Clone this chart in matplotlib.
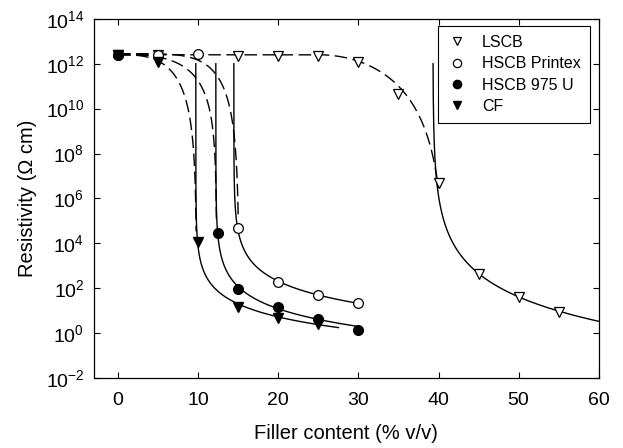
import numpy as np
import matplotlib as mpl
mpl.use('Agg')
import matplotlib.pyplot as plt
from matplotlib.ticker import LogLocator, LogFormatterSciNotation, NullLocator

plt.rcParams['font.family'] = ['Liberation Sans', 'DejaVu Sans']
plt.rcParams['mathtext.default'] = 'regular'

# measured resistivity (Ohm cm) vs filler content (% v/v)
lscb_x = [0, 5, 15, 20, 25, 30, 35, 40, 45, 50, 55]
lscb_y = [2.5e12, 2.5e12, 2.2e12, 2.2e12, 2.2e12, 1.2e12, 4.5e10, 5e6, 450, 39, 9]

printex_x = [0, 5, 10, 15, 20, 25, 30]
printex_y = [2.5e12, 2.5e12, 2.8e12, 5e4, 200, 48, 23]

u975_x = [0, 12.5, 15, 20, 25, 30]
u975_y = [2.5e12, 3e4, 90, 14, 4.5, 1.4]

cf_x = [0, 5, 10, 15, 20, 25]
cf_y = [2.4e12, 1.2e12, 1.1e4, 14, 5, 2.5]

# fit curves: percolation power law above threshold (solid),
# insulating branch below threshold (dashed)
# phic, log10 A, t, x max
lscb_fit = [39.3, 5.53, 3.8, 60]
printex_fit = [14.45, 3.95, 2.2, 30]
u975_fit = [12.2, 3.05, 2.2, 30]
cf_fit = [9.7, 2.75, 2.0, 27.5]
# log10 plateau, p0, pend, k, s, end (x or log floor)
lscb_low = [12.4, 25, 41, 2, 6.5, 40]
printex_low = [12.45, 0, 15.1, 5, 5.0, 5.0]
u975_low = [12.4, 0, 12.3, 3, 3.5, 5.0]
cf_low = [12.4, 0, 9.8, 3, 4.5, 4.5]


def solid_curve(fit):
    phic, logA, t, xmax = fit
    d0 = 10 ** ((logA - 12.0) / t)
    d = np.geomspace(d0, xmax - phic, 400)
    return phic + d, 10 ** (logA - t * np.log10(d))


def dashed_curve(low, xend=None):
    L0, p0, pend, k, s, end = low
    x = np.linspace(0, pend, 4000)[:-1]
    u = np.clip((x - p0) / (pend - p0), 0, None)
    ly = L0 + s * np.log10(1 - u ** k)
    if xend is not None:
        m = x <= xend
    else:
        m = ly >= end
    return x[m], 10 ** ly[m]


fig = plt.figure(figsize=(6.23, 4.48), dpi=100)
ax = fig.add_axes([0.151, 0.156, 0.810, 0.802])

dash = (0, (9, 4))
for fit, low, lscb in [(lscb_fit, lscb_low, True), (printex_fit, printex_low, False),
                       (u975_fit, u975_low, False), (cf_fit, cf_low, False)]:
    xs, ys = solid_curve(fit)
    ax.plot(xs, ys, color='black', lw=1.0, zorder=2)
    xd, yd = dashed_curve(low, xend=low[5] if lscb else None)
    ax.plot(xd, yd, color='black', lw=1.0, linestyle=dash, zorder=2)

ms = 7
ax.plot(lscb_x, lscb_y, linestyle='none', marker='v', ms=ms, mfc='white', mec='black',
        mew=0.9, label='LSCB', zorder=3)
ax.plot(printex_x, printex_y, linestyle='none', marker='o', ms=ms, mfc='white', mec='black',
        mew=0.9, label='HSCB Printex', zorder=3)
ax.plot(u975_x, u975_y, linestyle='none', marker='o', ms=ms, mfc='black', mec='black',
        label='HSCB 975 U', zorder=4)
ax.plot(cf_x, cf_y, linestyle='none', marker='v', ms=ms, mfc='black', mec='black',
        label='CF', zorder=4)

ax.set_yscale('log')
ax.set_xlim(-3, 60)
ax.set_ylim(1e-2, 1e14)
ax.set_xticks(np.arange(0, 61, 10))
ax.yaxis.set_major_locator(LogLocator(base=100.0, numticks=20))
ax.yaxis.set_major_formatter(LogFormatterSciNotation(base=10.0))
ax.yaxis.set_minor_locator(NullLocator())
ax.tick_params(direction='in', length=4, width=0.8, top=True, right=True,
               labelsize=14, pad=10)
ax.tick_params(axis='y', pad=7)
for sp in ax.spines.values():
    sp.set_linewidth(0.9)

ax.set_xlabel('Filler content (% v/v)', fontsize=14.5, labelpad=11)
ax.set_ylabel('Resistivity (\u03a9 cm)', fontsize=14.5, labelpad=6)

leg = ax.legend(loc='upper right', fontsize=11.5, frameon=True, fancybox=False,
                edgecolor='black', framealpha=1, handletextpad=1.0, borderpad=0.55,
                labelspacing=0.4, bbox_to_anchor=(0.982, 0.98), borderaxespad=0,
                handlelength=1.2, markerscale=0.85)
leg.get_frame().set_linewidth(0.8)

plt.savefig('out.png', dpi=100)
